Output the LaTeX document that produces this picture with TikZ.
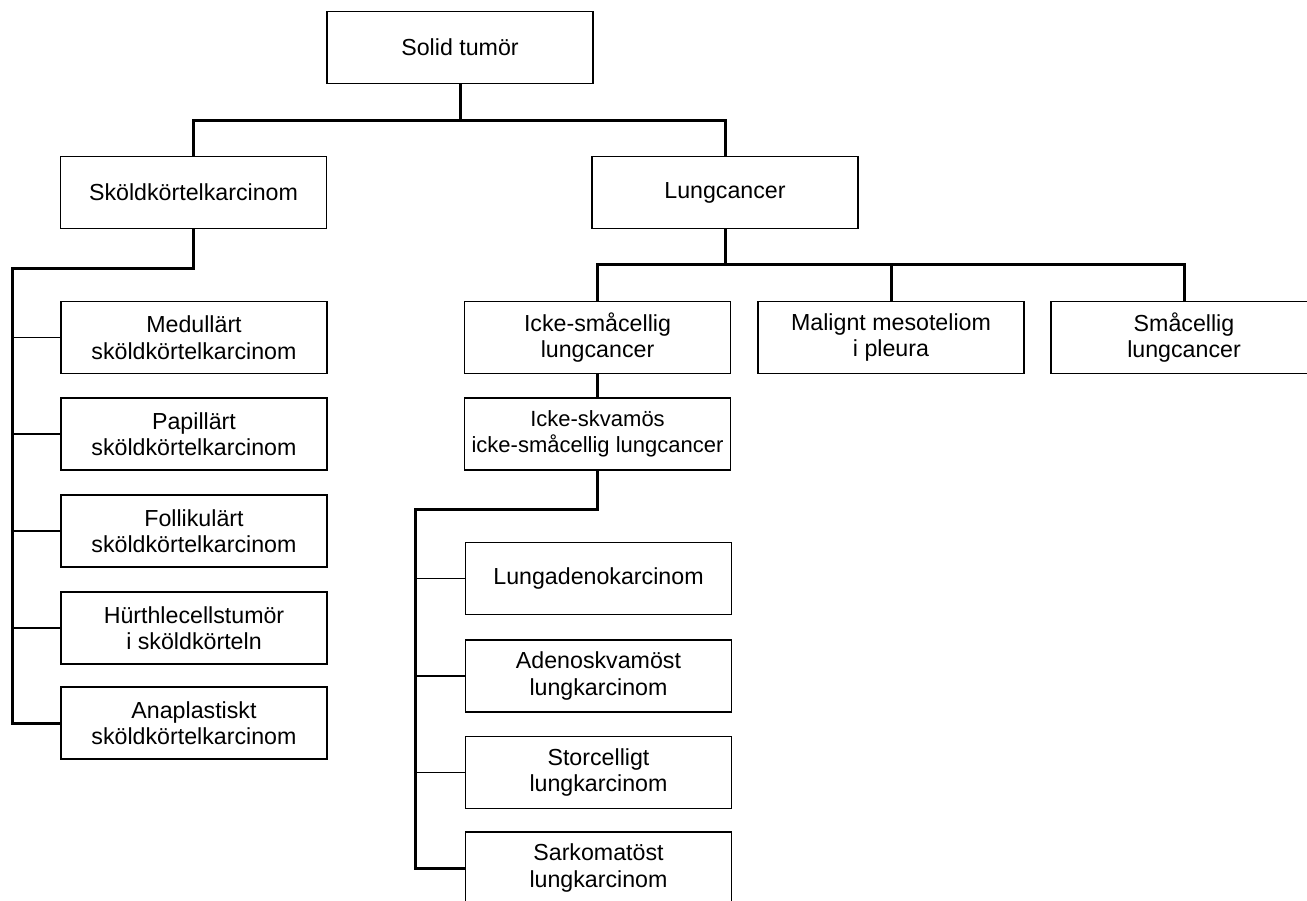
\documentclass[tikz,border=0pt]{standalone}
\usepackage{fontspec}
\setmainfont{Liberation Sans}
\begin{document}
\begin{tikzpicture}[x=1pt,y=-1pt,
  box/.style={draw=black,line width=1.9pt,fill=white,minimum width=266pt,minimum height=72pt,inner sep=0pt,align=center,
    font=\fontsize{23.2}{26.5}\selectfont},
  trunk/.style={line width=3pt},
  stub/.style={line width=1.9pt}]
\useasboundingbox (0,0) rectangle (1307,900);
\clip (0,0) rectangle (1307,900);
% nodes
\node[box] (solid) at (460,47.5) {Solid tumör};
\node[box] (skold) at (193.5,192.5) {Sköldkörtelkarcinom};
\node[box] (lung) at (725,192.5) {Lungcancer};
\node[box] (med) at (194,337.5) {Medullärt\\sköldkörtelkarcinom};
\node[box] (pap) at (194,434) {Papillärt\\sköldkörtelkarcinom};
\node[box] (fol) at (194,531) {Follikulärt\\sköldkörtelkarcinom};
\node[box] (hur) at (194,628) {Hürthlecellstumör\\i sköldkörteln};
\node[box] (ana) at (194,723) {Anaplastiskt\\sköldkörtelkarcinom};
\node[box] (icke) at (597.5,337.5) {Icke-småcellig\\lungcancer};
\node[box] (mal) at (891,337.5) {Malignt mesoteliom\\i pleura};
\node[box] (smac) at (1184,337.5) {Småcellig\\lungcancer};
\node[box,font=\fontsize{22}{26.5}\selectfont] (skv) at (597.5,434) {Icke-skvamös\\icke-småcellig lungcancer};
\node[box] (ade) at (598.5,578.5) {Lungadenokarcinom};
\node[box] (asq) at (598.5,676) {Adenoskvamöst\\lungkarcinom};
\node[box] (sto) at (598.5,772.5) {Storcelligt\\lungkarcinom};
\node[box] (sar) at (598.5,868) {Sarkomatöst\\lungkarcinom};
% helper coordinates
\coordinate (bus1) at (460,120);
\coordinate (bus2) at (727,264);
\coordinate (lt) at (12,268);
\coordinate (rt) at (415,509);
% connectors
\draw[trunk] (solid.south) -- (bus1);
\draw[trunk] (skold.north) |- (bus1) -| (lung.north);
\draw[trunk] (skold.south) |- (lt) |- (ana.west);
\draw[stub] (lt |- med.west) -- (med.west);
\draw[stub] (lt |- pap.west) -- (pap.west);
\draw[stub] (lt |- fol.west) -- (fol.west);
\draw[stub] (lt |- hur.west) -- (hur.west);
\draw[trunk] (lung.south) -- (lung.south |- bus2);
\draw[trunk] (icke.north) |- (bus2) -| (smac.north);
\draw[trunk] (mal.north) -- (mal.north |- bus2);
\draw[trunk] (icke.south) -- (skv.north);
\draw[trunk] (skv.south) |- (rt) |- (sar.west);
\draw[stub] (rt |- ade.west) -- (ade.west);
\draw[stub] (rt |- asq.west) -- (asq.west);
\draw[stub] (rt |- sto.west) -- (sto.west);
\end{tikzpicture}
\end{document}
